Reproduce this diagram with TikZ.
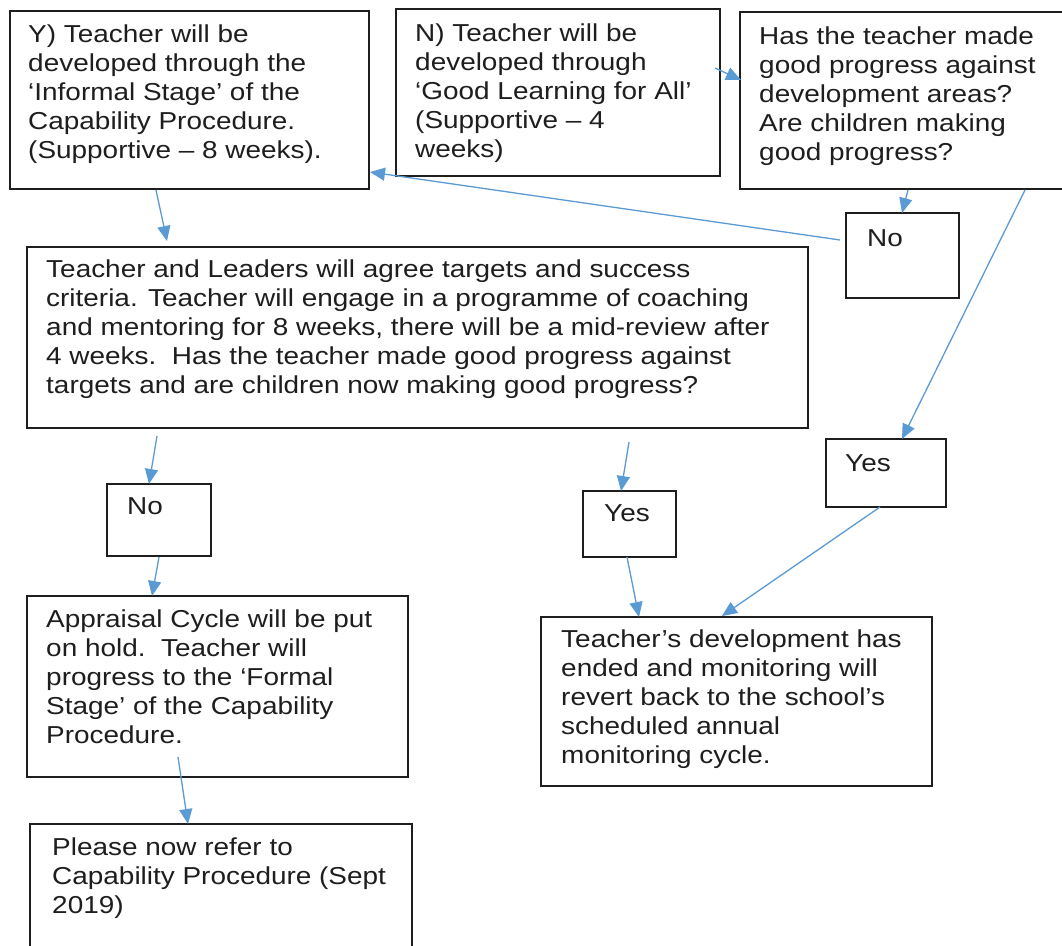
\documentclass[tikz,border=0pt]{standalone}
\usepackage{fontspec}
\setmainfont{Liberation Sans}
\usetikzlibrary{arrows.meta}
\definecolor{arr}{HTML}{5B9BD5}
\definecolor{ink}{HTML}{1E1E1E}
\tikzset{
  box/.style={draw=ink, line width=1.3pt, anchor=north west, inner sep=0pt, outer sep=0pt},
  txt/.style={anchor=base west, inner sep=0pt, text=ink, font=\fontsize{24.5}{29}\selectfont, transform shape, xscale=1.14},
  link/.style={draw=arr, line width=1.3pt, -{Triangle[length=15pt,width=13pt]}}
}
\newcommand{\lines}[1]{\begin{tabular}[t]{@{}l@{}}#1\end{tabular}}
\begin{document}
\begin{tikzpicture}[x=1pt,y=-1pt]
\useasboundingbox[fill=white] (0,0) rectangle (1062,945);
% boxes
\node[box, minimum width=359pt, minimum height=178pt] (Y) at (10,11) {};
\node[box, minimum width=324pt, minimum height=167pt] (N) at (396,9) {};
\node[box, minimum width=326pt, minimum height=177pt] (Q) at (740,12) {};
\node[box, minimum width=113pt, minimum height=85pt] (NoR) at (846,213) {};
\node[box, minimum width=781pt, minimum height=181pt] (Big) at (27,247) {};
\node[box, minimum width=104pt, minimum height=72pt] (NoL) at (107,484) {};
\node[box, minimum width=93pt, minimum height=66pt] (YesM) at (583,491) {};
\node[box, minimum width=120pt, minimum height=68pt] (YesR) at (826,439) {};
\node[box, minimum width=391pt, minimum height=169pt] (Dev) at (541,617) {};
\node[box, minimum width=381pt, minimum height=181pt] (Appr) at (27,596) {};
\node[box, minimum width=382pt, minimum height=130pt] (Please) at (30,824) {};
% texts
\node[txt] (Yt) at (28,42) {\lines{Y) Teacher will be\\developed through the\\‘Informal Stage’ of the\\Capability Procedure.\\(Supportive – 8 weeks).}};
\node[txt] (Nt) at (415,41) {\lines{N) Teacher will be\\developed through\\‘Good Learning for All’\\(Supportive – 4\\weeks)}};
\node[txt] (Qt) at (759,44) {\lines{Has the teacher made\\good progress against\\development areas?\\Are children making\\good progress?}};
\node[txt] (NoRt) at (867,246) {No};
\node[txt] (Bigt) at (46,277) {\lines{Teacher and Leaders will agree targets and success\\criteria. Teacher will engage in a programme of coaching\\and mentoring for 8 weeks, there will be a mid-review after\\4 weeks.\ \ Has the teacher made good progress against\\targets and are children now making good progress?}};
\node[txt] (NoLt) at (127,514) {No};
\node[txt] (YesMt) at (604,521) {Yes};
\node[txt] (YesRt) at (845,471) {Yes};
\node[txt] (Devt) at (561,647) {\lines{Teacher’s development has\\ended and monitoring will\\revert back to the school’s\\scheduled annual\\monitoring cycle.}};
\node[txt] (Apprt) at (46,627) {\lines{Appraisal Cycle will be put\\on hold.\ \ Teacher will\\progress to the ‘Formal\\Stage’ of the Capability\\Procedure.}};
\node[txt] (Pleaset) at (52,855) {\lines{Please now refer to\\Capability Procedure (Sept\\2019)}};
% connector end points
\coordinate (a1) at (156,190); \coordinate (b1) at (167,241);
\coordinate (a2) at (715,68);  \coordinate (b2) at (741,80);
\coordinate (a3) at (908,190); \coordinate (b3) at (902,213);
\coordinate (a4) at (840,240); \coordinate (b4) at (370,172);
\coordinate (a5) at (1025,190); \coordinate (b5) at (902,439);
\coordinate (a6) at (880,507); \coordinate (b6) at (722,616);
\coordinate (a7) at (157,436); \coordinate (b7) at (149,484);
\coordinate (a8) at (159,557); \coordinate (b8) at (152,596);
\coordinate (a9) at (178,757); \coordinate (b9) at (188,824);
\coordinate (a10) at (629,442); \coordinate (b10) at (621,491);
\coordinate (a11) at (627,557); \coordinate (b11) at (639,617);
% connectors
\draw[link] (a1) -- (b1);
\draw[link] (a2) -- (b2);
\draw[link] (a3) -- (b3);
\draw[link] (a4) -- (b4);
\draw[link] (a5) -- (b5);
\draw[link] (a6) -- (b6);
\draw[link] (a7) -- (b7);
\draw[link] (a8) -- (b8);
\draw[link] (a9) -- (b9);
\draw[link] (a10) -- (b10);
\draw[link] (a11) -- (b11);
\end{tikzpicture}
\end{document}
